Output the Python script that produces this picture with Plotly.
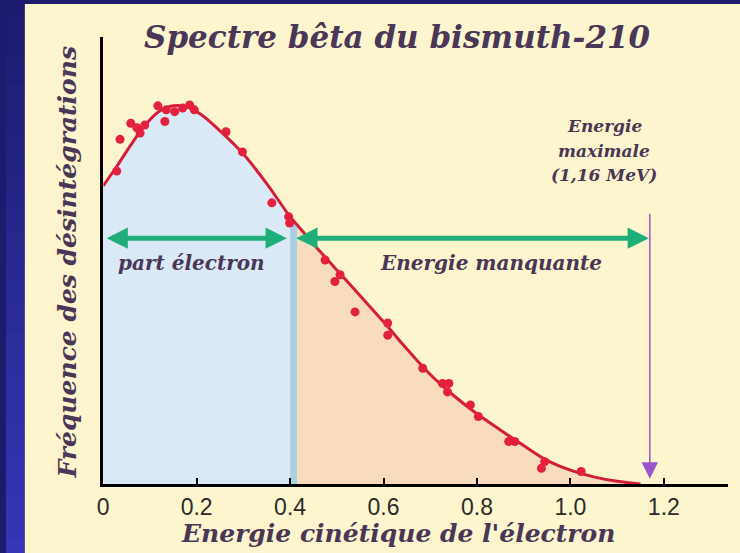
import plotly.graph_objects as go

# ---- data ----
curve_x = [0.00, 0.03, 0.06, 0.09, 0.12, 0.15, 0.18, 0.21, 0.25, 0.30, 0.35, 0.40, 0.415,
           0.45, 0.50, 0.55, 0.60, 0.65, 0.70, 0.75, 0.80, 0.85, 0.90, 0.95, 1.00, 1.05,
           1.10, 1.15]
curve_y = [0.667, 0.712, 0.760, 0.803, 0.834, 0.846, 0.843, 0.826, 0.790, 0.738, 0.672,
           0.598, 0.580, 0.537, 0.479, 0.421, 0.363, 0.302, 0.245, 0.198, 0.157, 0.121,
           0.086, 0.053, 0.031, 0.016, 0.006, 0.0]

meas_x = [0.029, 0.036, 0.059, 0.072, 0.079, 0.089, 0.117, 0.132, 0.135, 0.153, 0.170,
          0.185, 0.195, 0.263, 0.298, 0.361, 0.397, 0.399, 0.475, 0.507, 0.496, 0.539,
          0.609, 0.609, 0.684, 0.726, 0.740, 0.737, 0.786, 0.803, 0.868, 0.881, 0.945,
          0.938, 1.023]
meas_y = [0.700, 0.771, 0.807, 0.797, 0.785, 0.803, 0.846, 0.811, 0.837, 0.833, 0.841,
          0.848, 0.837, 0.788, 0.743, 0.629, 0.598, 0.584, 0.501, 0.468, 0.453, 0.385,
          0.360, 0.333, 0.259, 0.225, 0.225, 0.206, 0.177, 0.151, 0.095, 0.095, 0.050,
          0.035, 0.028]

tick_vals = [0, 0.2, 0.4, 0.6, 0.8, 1.0, 1.2]
tick_text = ["0", "0.2", "0.4", "0.6", "0.8", "1.0", "1.2"]

electron_share = 0.40      # end of "part électron"
strip_end = 0.415          # end of the darker strip
e_max = 1.17               # position of the max-energy marker
arrow_level = 0.550

title_text = "Spectre bêta du bismuth-210"
x_title = "Energie cinétique de l'électron"
y_title = "Fréquence des désintégrations"
emax_lines = ["Energie", "maximale", "(1,16 MeV)"]
label_left = "part électron"
label_right = "Energie manquante"

# ---- figure ----
W, H = 740, 553
SERIF = "DejaVu Serif"
TXT = "#4a3656"

i_a = curve_x.index(electron_share)
i_b = curve_x.index(strip_end)

fig = go.Figure()
fig.add_trace(go.Scatter(x=curve_x[:i_a + 1], y=curve_y[:i_a + 1], mode="lines",
                         line=dict(width=0, shape="spline"), fill="tozeroy",
                         fillcolor="#d9eaf6", hoverinfo="skip", showlegend=False))
fig.add_trace(go.Scatter(x=curve_x[i_a:i_b + 1], y=curve_y[i_a:i_b + 1], mode="lines",
                         line=dict(width=0), fill="tozeroy",
                         fillcolor="#a9cfe3", hoverinfo="skip", showlegend=False))
fig.add_trace(go.Scatter(x=curve_x[i_b:], y=curve_y[i_b:], mode="lines",
                         line=dict(width=0, shape="spline"), fill="tozeroy",
                         fillcolor="#f9dcbc", hoverinfo="skip", showlegend=False))
fig.add_trace(go.Scatter(x=curve_x, y=curve_y, mode="lines",
                         line=dict(color="#d41f3c", width=3, shape="spline"),
                         showlegend=False))
fig.add_trace(go.Scatter(x=meas_x, y=meas_y, mode="markers",
                         marker=dict(color="#e3203e", size=9), showlegend=False))

shapes = []
# dark frame with a vertical gradient on the left
top_rgb = (0x1c, 0x1b, 0x6e)
bot_rgb = (0x36, 0x36, 0xb6)
n = 40
for k in range(n):
    t = k / (n - 1)
    c = "rgb(%d,%d,%d)" % tuple(round(a + (b - a) * t) for a, b in zip(top_rgb, bot_rgb))
    shapes.append(dict(type="rect", xref="paper", yref="paper", x0=0, x1=19 / W,
                       y0=1 - (k + 1) / n - 0.002, y1=1 - k / n, fillcolor=c,
                       line=dict(width=0), layer="below"))
shapes.append(dict(type="rect", xref="paper", yref="paper", x0=19 / W, x1=1,
                   y0=1 - 4 / H, y1=1, fillcolor="#1c1b6e", line=dict(width=0),
                   layer="below"))
# cream panel
shapes.append(dict(type="rect", xref="paper", yref="paper", x0=19 / W, x1=1,
                   y0=0, y1=1 - 4 / H, fillcolor="#fdf5cd", line=dict(width=0),
                   layer="below"))

ann = []
ann.append(dict(text="<b><i>%s</i></b>" % title_text, x=395 / W, y=1 - 37 / H,
                xref="paper", yref="paper", showarrow=False, xanchor="center",
                yanchor="middle", font=dict(family=SERIF, size=31, color=TXT)))
ann.append(dict(text="<b><i>%s</i></b>" % x_title, x=395 / W, y=1 - 533 / H,
                xref="paper", yref="paper", showarrow=False, xanchor="center",
                yanchor="middle", font=dict(family=SERIF, size=25, color=TXT)))
ann.append(dict(text="<b><i>%s</i></b>" % y_title, x=62 / W, y=1 - 262 / H,
                xref="paper", yref="paper", showarrow=False, xanchor="center",
                yanchor="middle", textangle=-90,
                font=dict(family=SERIF, size=25, color=TXT)))
for k, line in enumerate(emax_lines):
    ann.append(dict(text="<b><i>%s</i></b>" % line, x=603 / W, y=1 - (126 + 24.5 * k) / H,
                    xref="paper", yref="paper", showarrow=False, xanchor="center",
                    yanchor="middle", font=dict(family=SERIF, size=17, color=TXT)))
ann.append(dict(text="<b><i>%s</i></b>" % label_left, x=187 / W, y=1 - 263 / H,
                xref="paper", yref="paper", showarrow=False, xanchor="center",
                yanchor="middle", font=dict(family=SERIF, size=20, color=TXT)))
ann.append(dict(text="<b><i>%s</i></b>" % label_right, x=489 / W, y=1 - 263 / H,
                xref="paper", yref="paper", showarrow=False, xanchor="center",
                yanchor="middle", font=dict(family=SERIF, size=20, color=TXT)))

# green double arrows
for (a, b) in [(0.004, 0.393), (0.410, 1.168)]:
    ann.append(dict(x=b, y=arrow_level, ax=a, ay=arrow_level, xref="x", yref="y",
                    axref="x", ayref="y", text="", showarrow=True,
                    arrowhead=2, startarrowhead=2, arrowside="end+start",
                    arrowsize=0.85, startarrowsize=0.85, arrowwidth=5,
                    arrowcolor="#1fae79"))
# purple max-energy arrow
ann.append(dict(x=e_max, y=0.012, ax=e_max, ay=0.608, xref="x", yref="y",
                axref="x", ayref="y", text="", showarrow=True, arrowhead=2,
                arrowsize=2.2, arrowwidth=1.5, arrowcolor="#9b55cc"))

fig.update_layout(
    width=W, height=H,
    margin=dict(l=0, r=0, t=0, b=0),
    paper_bgcolor="#1c1b6e",
    plot_bgcolor="rgba(0,0,0,0)",
    shapes=shapes,
    annotations=ann,
    xaxis=dict(domain=[98 / W, 728 / W], range=[0, 630 / 471], showline=True,
               linecolor="black", linewidth=3, ticks="inside", ticklen=6,
               tickwidth=2, tickcolor="black", tickvals=tick_vals,
               ticktext=tick_text, showgrid=False, zeroline=False,
               tickfont=dict(family="Liberation Sans", size=23, color="#2b2b2b"),
               fixedrange=True),
    yaxis=dict(domain=[1 - 484 / H, 1 - 37 / H], range=[0, 1], showline=True,
               linecolor="black", linewidth=3, showticklabels=False, ticks="",
               showgrid=False, zeroline=False, fixedrange=True),
)

fig.write_html(
    "out.html",
    config={"displayModeBar": False},
    post_script="document.body.style.margin='0';document.body.style.padding='0';"
                "document.body.style.overflow='hidden';",
)
